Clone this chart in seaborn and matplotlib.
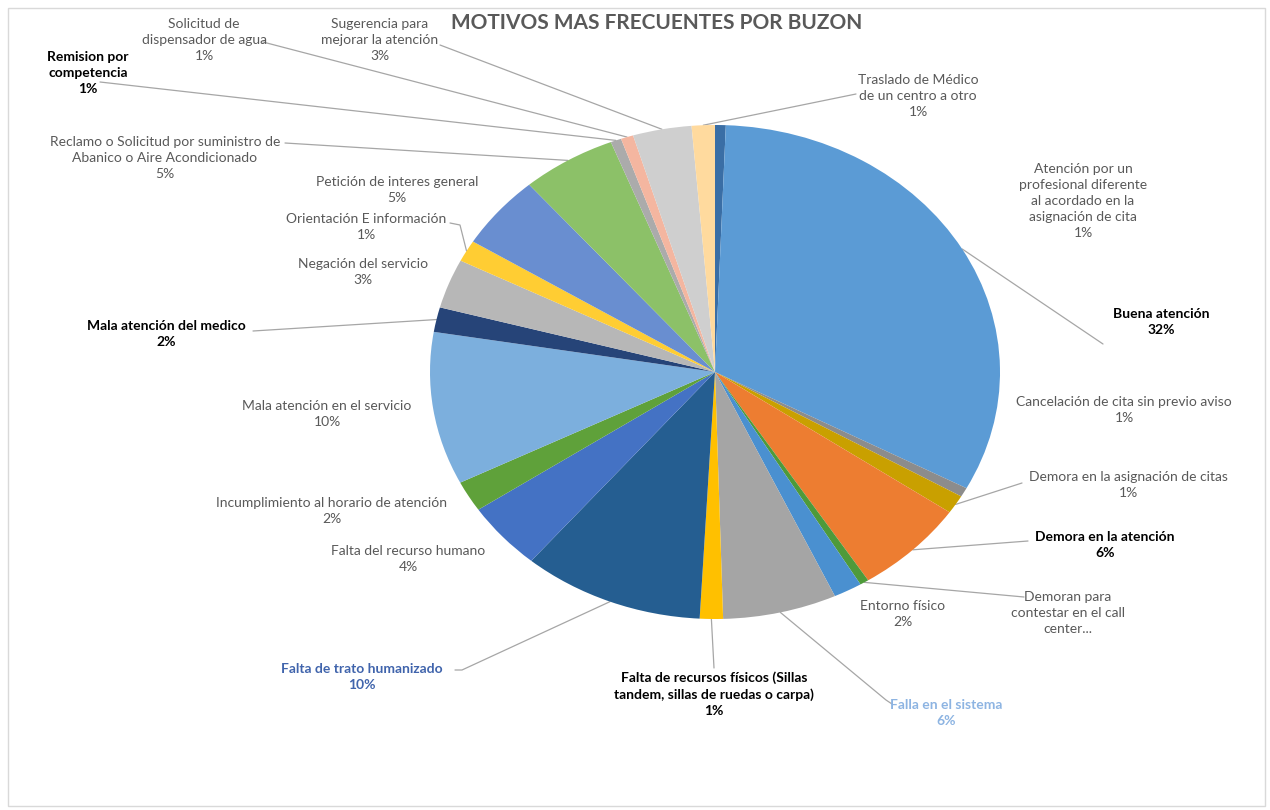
import numpy as np
import seaborn as sns
import matplotlib.pyplot as plt
from matplotlib.patches import Rectangle

sns.set_theme(style="white")
plt.rcParams['font.family'] = ['Lato', 'DejaVu Sans']

# datos (porcentaje de cada motivo)
motivos = [
    'Atención por un\nprofesional diferente\nal acordado en la\nasignación de cita',
    'Buena atención',
    'Cancelación de cita sin previo aviso',
    'Demora en la asignación de citas',
    'Demora en la atención',
    'Demoran para\ncontestar en el call\ncenter...',
    'Entorno físico',
    'Falla en el sistema',
    'Falta de recursos físicos (Sillas\ntandem, sillas de ruedas o carpa)',
    'Falta de trato humanizado',
    'Falta del recurso humano',
    'Incumplimiento al horario de atención',
    'Mala atención en el servicio',
    'Mala atención del medico',
    'Negación del servicio',
    'Orientación E información',
    'Petición de interes general',
    'Reclamo o Solicitud por suministro de\nAbanico o Aire Acondicionado',
    'Remision por\ncompetencia',
    'Solicitud de\ndispensador de agua',
    'Sugerencia para\nmejorar la atención',
    'Traslado de Médico\nde un centro a otro',
]
porcentajes = [0.6, 31.9, 0.6, 1.2, 6.3, 0.5, 1.6, 6.4, 1.3, 10.2, 4.4,
               2.0, 9.9, 1.6, 3.2, 1.4, 4.8, 5.3, 0.6, 0.7, 3.3, 1.3]
colores = ['#3A6EA5', '#5B9BD5', '#8C8C8C', '#C9A000', '#ED7D31', '#4E9A3A',
           '#4A90D0', '#A5A5A5', '#FFC000', '#255E91', '#4472C4', '#5FA13A',
           '#7CAFDD', '#264478', '#B7B7B7', '#FFCD33', '#698ED0', '#8CC168',
           '#ABABAB', '#F4B6A0', '#CFCFCF', '#FFDA9E']

# estilo de etiquetas
negrita = {'Buena atención', 'Demora en la atención', 'Mala atención del medico',
           'Remision por\ncompetencia', 'Falta de trato humanizado', 'Falla en el sistema',
           'Falta de recursos físicos (Sillas\ntandem, sillas de ruedas o carpa)'}
color_txt = {'Falta de trato humanizado': '#4064AC', 'Falla en el sistema': '#8DB4E2',
             'Buena atención': 'black', 'Demora en la atención': 'black',
             'Mala atención del medico': 'black', 'Remision por\ncompetencia': 'black',
             'Falta de recursos físicos (Sillas\ntandem, sillas de ruedas o carpa)': 'black'}
sin_pct = {'Demoran para\ncontestar en el call\ncenter...'}

# posicion de etiquetas (pixeles) y fin de linea guia
pos_txt = [(1083, 201), (1161, 322), (1124, 410), (1128, 485), (1105, 545),
           (1068, 613), (903, 614), (946, 713), (714, 694), (362, 677),
           (408, 559), (332, 511), (327, 414), (166, 334), (363, 272),
           (366, 227), (397, 190), (165, 158), (88, 73), (204, 40),
           (380, 40), (918, 96)]
fin_linea = [None, [(1103, 344)], None, [(1022, 483)], [(1028, 541)],
             [(1024, 597)], None, [(886, 700), (892, 704)], [(714, 668)],
             [(462, 670), (455, 670)], None, None, None, [(253, 331)], None,
             [(460, 225), (450, 223)], None, [(285, 143)], [(100, 82)],
             [(263, 42)], [(440, 45)], [(856, 94)]]

W, H = 1270, 810
cx, cy, rx, ry = 715, 372, 285, 247

fig = plt.figure(figsize=(12.7, 8.1), dpi=100)
ax = fig.add_axes([0, 0, 1, 1])

wedges, _ = ax.pie(porcentajes, colors=colores, startangle=90, counterclock=False,
                   wedgeprops=dict(linewidth=0))
ax.set_aspect('auto')
ax.set_xlim(-cx / rx, (W - cx) / rx)
ax.set_ylim(-(H - cy) / ry, cy / ry)
ax.axis('off')


def px(x, y):
    return (x - cx) / rx, (cy - y) / ry


total = sum(porcentajes)
for i, (w, nombre) in enumerate(zip(wedges, motivos)):
    pct = round(porcentajes[i] / total * 100)
    txt = nombre if nombre in sin_pct else f'{nombre}\n{pct}%'
    tx, ty = px(*pos_txt[i])
    ax.text(tx, ty, txt, ha='center', va='center', fontsize=10, linespacing=1.4,
            color=color_txt.get(nombre, '#595959'),
            fontweight='bold' if nombre in negrita else 'normal')
    if fin_linea[i]:
        ang = np.deg2rad((w.theta1 + w.theta2) / 2)
        xs = [np.cos(ang)] + [px(*p)[0] for p in fin_linea[i]]
        ys = [np.sin(ang)] + [px(*p)[1] for p in fin_linea[i]]
        ax.plot(xs, ys, color='#A6A6A6', lw=0.9, zorder=0.5)

fig.text(657 / W, 1 - 23 / H, 'MOTIVOS MAS FRECUENTES POR BUZON', ha='center', va='center',
         fontsize=15, fontweight='bold', color='#595959')

fig.patches.append(Rectangle((8 / W, 4 / H), 1257 / W, 798 / H, transform=fig.transFigure,
                             fill=False, edgecolor='#D9D9D9', lw=1))

fig.savefig('out.png', dpi=100, facecolor='white')
